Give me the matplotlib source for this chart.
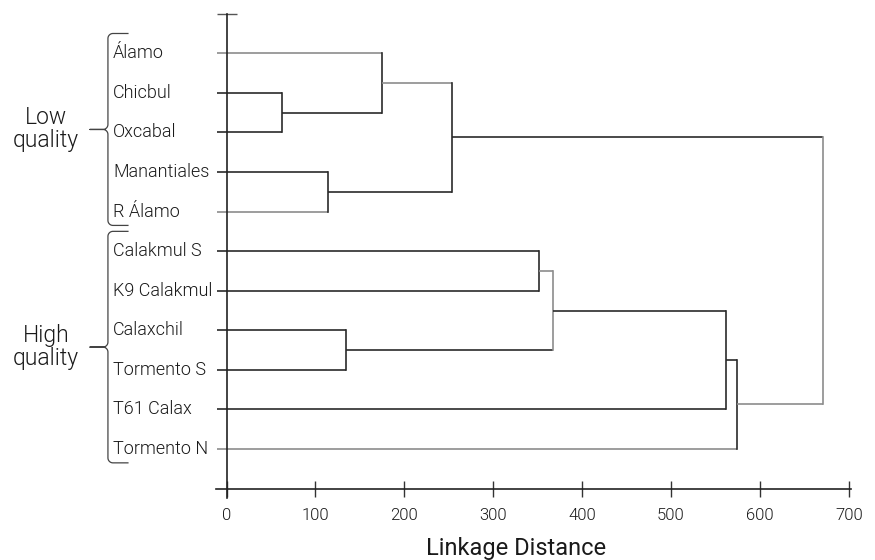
import numpy as np
import matplotlib
matplotlib.use("Agg")
import matplotlib.pyplot as plt

plt.rcParams["font.family"] = ["Roboto", "DejaVu Sans"]
plt.rcParams["font.weight"] = 300

# leaves, top to bottom
labels = ["Álamo", "Chicbul", "Oxcabal", "Manantiales", "R Álamo",
          "Calakmul S", "K9 Calakmul", "Calaxchil", "Tormento S",
          "T61 Calax", "Tormento N"]

# merges (child a, child b, linkage distance); new clusters get ids 11, 12, ...
merge_a = [1, 0, 3, 12, 5, 7, 15, 17, 18, 14]
merge_b = [2, 11, 4, 13, 6, 8, 16, 9, 10, 19]
merge_h = [62, 174.5, 114, 254, 352, 134, 367.5, 562, 574, 671]

group_names = ["Low\nquality", "High\nquality"]
group_first = [0, 5]
group_last = [4, 10]

xticks = [0, 100, 200, 300, 400, 500, 600, 700]

dark = "#2a2a2a"
light = "#8c8c8c"
light_branches = {0, 4, 12, 15, 10, 19}
light_verticals = {6, 9}

fig = plt.figure(figsize=(8.75, 5.6), dpi=100)
ax = fig.add_axes([205 / 875, 55 / 560, 655 / 875, 500 / 560])
ax.set_xlim(-24.3, 712.6)
ax.set_ylim(12.415, -0.22)

# draw the tree
node_x = [-11.0] * len(labels)
node_y = [float(i + 1) for i in range(len(labels))]
for k, (a, b, h) in enumerate(zip(merge_a, merge_b, merge_h)):
    for c in (a, b):
        col = light if c in light_branches else dark
        ax.plot([node_x[c], h], [node_y[c], node_y[c]], color=col, lw=1.2,
                solid_capstyle="butt", clip_on=False)
    col = light if k in light_verticals else dark
    ax.plot([h, h], [node_y[a], node_y[b]], color=col, lw=1.2, clip_on=False)
    node_x.append(h)
    node_y.append((node_y[a] + node_y[b]) / 2)

# leaf labels
for i, lab in enumerate(labels):
    ax.text(-127.8, i + 1, lab, ha="left", va="center", fontsize=13,
            color="#1a1a1a", clip_on=False)

# braces and group names
dxp = 1 / 0.8891   # data units per pixel (x)
dyp = 1 / 39.57    # data units per pixel (y)
t = np.linspace(0, np.pi / 2, 12)
for name, f, l in zip(group_names, group_first, group_last):
    top = f + 0.5
    bot = l + 1.35
    ym = (top + bot) / 2
    xb = -133.5
    rx, ry = 5 * dxp, 5 * dyp
    hook = 20 * dxp
    xtip = xb - 18 * dxp
    xs = [xb + hook]
    ys = [top]
    xs += list(xb + rx - rx * np.sin(t)); ys += list(top + ry - ry * np.cos(t))
    xs += list(xb - rx + rx * np.cos(t)); ys += list(ym - ry + ry * np.sin(t))
    xs += [xtip, xb - rx]; ys += [ym, ym]
    xs += list(xb - rx + rx * np.sin(t)); ys += list(ym + ry - ry * np.cos(t))
    xs += list(xb + rx - rx * np.cos(t)); ys += list(bot - ry + ry * np.sin(t))
    xs += [xb + hook]; ys += [bot]
    ax.plot(xs, ys, color="#444444", lw=0.9, clip_on=False)
    ax.text(-203, ym, name, ha="center", va="center", fontsize=16.5,
            linespacing=1.0, color="#1a1a1a", clip_on=False)

# axes styling
for s in ("top", "right"):
    ax.spines[s].set_visible(False)
ax.spines["left"].set_position(("data", 0))
ax.spines["left"].set_bounds(0, 12.25)
ax.spines["bottom"].set_position(("data", 12))
ax.spines["bottom"].set_bounds(-12, 702)
for s in ("left", "bottom"):
    ax.spines[s].set_color("#222222")
    ax.spines[s].set_linewidth(1.2)

ax.set_yticks([0])
ax.set_yticklabels([""])
ax.tick_params(axis="y", direction="inout", length=14, width=1.0, colors="#555555")
ax.set_xticks(xticks)
ax.set_xticklabels([str(v) for v in xticks])
ax.tick_params(axis="x", direction="inout", length=12, width=1.0, pad=8,
               labelsize=12, colors="#333333", labelcolor="#1a1a1a")
ax.set_xlabel("Linkage Distance", fontsize=17, color="#1a1a1a", va="center")
ax.xaxis.set_label_coords(0.475, -0.088)

fig.savefig("out.png", dpi=100)
